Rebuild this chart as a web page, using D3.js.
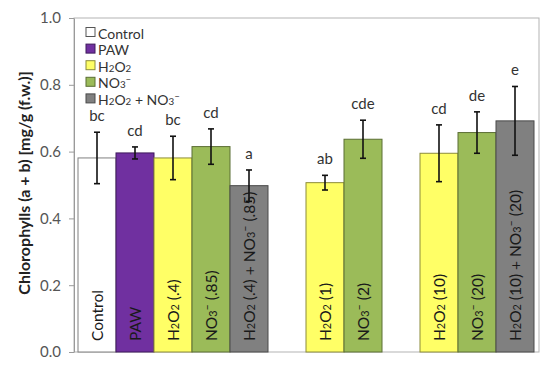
<!DOCTYPE html>
<html>
<head>
<meta charset="utf-8">
<script src="https://cdn.jsdelivr.net/npm/d3@7"></script>
<style>
  body { margin: 0; background: #fff; }
  svg text { font-family: "Lato", "Open Sans", sans-serif; }
</style>
</head>
<body>
<div id="chart"></div>
<script>
// bar labels use a tiny markup: _x = subscript char, ^x = superscript char
var labels = ["Control", "PAW", "H_2O_2 (.4)", "NO_3^\u2013 (.85)", "H_2O_2 (.4) + NO_3^\u2013 (.85)",
              "H_2O_2 (1)", "NO_3^\u2013 (2)",
              "H_2O_2 (10)", "NO_3^\u2013 (20)", "H_2O_2 (10) + NO_3^\u2013 (20)"];
var groups = [1, 1, 1, 1, 1, 2, 2, 3, 3, 3];
var treatments = ["control", "paw", "h2o2", "no3", "mix", "h2o2", "no3", "h2o2", "no3", "mix"];
var values = [0.581, 0.596, 0.581, 0.615, 0.498, 0.507, 0.637, 0.595, 0.657, 0.692];
var errors = [0.077, 0.018, 0.065, 0.053, 0.047, 0.022, 0.057, 0.085, 0.062, 0.103];
var letters = ["bc", "cd", "bc", "cd", "a", "ab", "cde", "cd", "de", "e"];

var legendKeys = ["control", "paw", "h2o2", "no3", "mix"];
var legendLabels = ["Control", "PAW", "H_2O_2", "NO_3^\u2013", "H_2O_2 + NO_3^\u2013"];
var yTicks = [0, 0.2, 0.4, 0.6, 0.8, 1.0];

var fills = { control: "#ffffff", paw: "#7030a0", h2o2: "#ffff66", no3: "#9bbb59", mix: "#808080" };
var strokes = { control: "#808080", paw: "#3f1a5c", h2o2: "#8c8c3a", no3: "#5b6e34", mix: "#4a4a4a" };

var width = 550, height = 369;
var plot = { left: 74, right: 539, top: 18, bottom: 352 };

var svg = d3.select("#chart").append("svg")
    .attr("width", width)
    .attr("height", height);

// slots: one per bar plus an empty slot between groups
var slots = [];
labels.forEach(function (l, i) {
    if (i > 0 && groups[i] !== groups[i - 1]) slots.push("gap" + i);
    slots.push(l);
});

var x = d3.scaleBand().domain(slots).range([78, 534]).padding(0);
var y = d3.scaleLinear().domain([0, 1]).range([plot.bottom, plot.top]);

// write markup text into a text element
function richText(sel, str, size) {
    var i = 0, buf = "";
    function flush() {
        if (buf) sel.append("tspan").text(buf);
        buf = "";
    }
    while (i < str.length) {
        var c = str[i];
        if (c === "_" || c === "^") {
            flush();
            sel.append("tspan").text(str[i + 1])
                .style("font-size", (size * 0.7) + "px")
                .attr("baseline-shift", c === "_" ? "-18%" : "42%");
            i += 2;
        } else {
            buf += c;
            i++;
        }
    }
    flush();
}

// plot frame
svg.append("rect")
    .attr("x", plot.left).attr("y", plot.top)
    .attr("width", plot.right - plot.left)
    .attr("height", plot.bottom - plot.top)
    .attr("fill", "none")
    .attr("stroke", "#b3b3b3")
    .attr("stroke-width", 1);

// y axis
var yAxis = svg.append("g")
    .attr("transform", "translate(" + plot.left + ",0)")
    .call(d3.axisLeft(y).tickValues(yTicks).tickFormat(d3.format(".1f")).tickSize(5).tickSizeOuter(0));
yAxis.select(".domain").attr("stroke", "#9a9a9a");
yAxis.selectAll(".tick line").attr("stroke", "#9a9a9a");
yAxis.selectAll(".tick text")
    .attr("x", -13)
    .style("font-size", "15px")
    .style("font-family", "Lato, 'Open Sans', sans-serif")
    .attr("fill", "#555");

svg.append("text")
    .attr("transform", "translate(23," + ((plot.top + plot.bottom) / 2 - 2) + ") rotate(-90)")
    .attr("text-anchor", "middle")
    .attr("dominant-baseline", "central")
    .style("font-size", "16px")
    .style("font-weight", "bold")
    .attr("fill", "#222")
    .text("Chlorophylls (a + b) [mg/g (f.w.)]");

// bars
var bars = svg.append("g");
labels.forEach(function (l, i) {
    bars.append("rect")
        .attr("x", x(l)).attr("y", y(values[i]))
        .attr("width", x.bandwidth()).attr("height", y(0) - y(values[i]))
        .attr("fill", fills[treatments[i]])
        .attr("stroke", strokes[treatments[i]])
        .attr("stroke-width", 1);
});

// error bars and letters
labels.forEach(function (l, i) {
    var cx = x(l) + x.bandwidth() / 2;
    var top = y(values[i] + errors[i]), bot = y(values[i] - errors[i]);
    var g = svg.append("g").attr("stroke", "#111").attr("stroke-width", 1.6);
    g.append("line").attr("x1", cx).attr("x2", cx).attr("y1", top).attr("y2", bot);
    g.append("line").attr("x1", cx - 3).attr("x2", cx + 3).attr("y1", top).attr("y2", top);
    g.append("line").attr("x1", cx - 3).attr("x2", cx + 3).attr("y1", bot).attr("y2", bot);

    svg.append("text")
        .attr("x", cx).attr("y", top - 11)
        .attr("text-anchor", "middle")
        .style("font-size", "15px")
        .attr("fill", "#333")
        .text(letters[i]);
});

// labels inside bars
labels.forEach(function (l, i) {
    var cx = x(l) + x.bandwidth() / 2;
    var t = svg.append("text")
        .attr("transform", "translate(" + cx + ",341) rotate(-90)")
        .attr("dominant-baseline", "central")
        .style("font-size", "15.5px")
        .attr("fill", "#1a1a1a");
    richText(t, l, 15.5);
});

// legend
var legend = svg.append("g").attr("transform", "translate(86,32)");
legendKeys.forEach(function (k, i) {
    var row = legend.append("g").attr("transform", "translate(0," + (i * 16.6) + ")");
    row.append("rect")
        .attr("x", 0).attr("y", -4.5)
        .attr("width", 9).attr("height", 9)
        .attr("fill", fills[k])
        .attr("stroke", k === "control" ? "#555" : strokes[k])
        .attr("stroke-width", 1);
    var t = row.append("text")
        .attr("x", 12).attr("y", 0.5)
        .attr("dominant-baseline", "central")
        .style("font-size", "14px")
        .attr("fill", "#333");
    richText(t, legendLabels[i], 14);
});
</script>
</body>
</html>
